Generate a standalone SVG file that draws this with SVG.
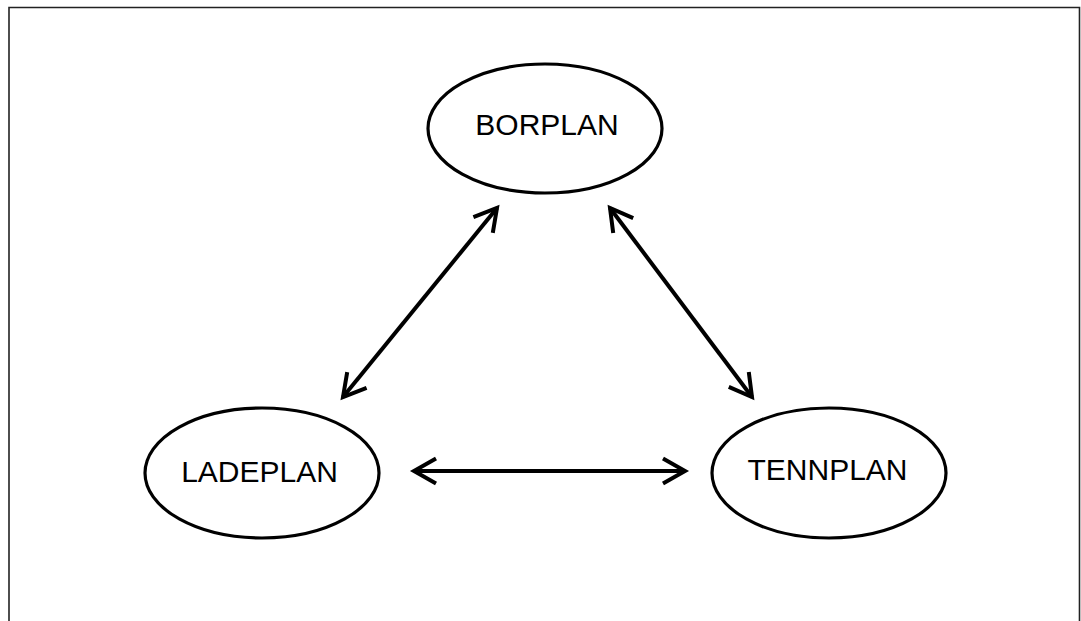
<svg xmlns="http://www.w3.org/2000/svg" width="1081" height="621" viewBox="0 0 1081 621">
<style>
.node ellipse{fill:#fff;stroke:#000;stroke-width:3.2}
.node text{font-family:"Liberation Sans",Arial,sans-serif;font-size:30px;fill:#000;text-anchor:middle}
.conn line{stroke:#000;stroke-width:4;fill:none}
</style>
<defs>
<marker id="ah" markerUnits="userSpaceOnUse" markerWidth="40" markerHeight="40" viewBox="-30 -20 40 40" refX="0" refY="0" orient="auto-start-reverse" overflow="visible">
<path d="M-22,-12.5 L0,0 L-22,12.5" fill="none" stroke="#000" stroke-width="4"/>
</marker>
</defs>
<rect width="1081" height="621" fill="#fff"/>
<path d="M9,621 V7.5 H1079.5 V621" fill="none" stroke="#222" stroke-width="1.6"/>
<g id="connectors" class="conn">
<line x1="343" y1="397" x2="497" y2="208" marker-start="url(#ah)" marker-end="url(#ah)"/>
<line x1="610" y1="208" x2="752" y2="397" marker-start="url(#ah)" marker-end="url(#ah)"/>
<line x1="414" y1="471" x2="685" y2="471" marker-start="url(#ah)" marker-end="url(#ah)"/>
</g>
<g id="borplan" class="node">
<ellipse cx="545" cy="128.5" rx="117" ry="64.5"/>
<text x="547" y="135">BORPLAN</text>
</g>
<g id="ladeplan" class="node">
<ellipse cx="262" cy="473" rx="117" ry="65"/>
<text x="259.5" y="482">LADEPLAN</text>
</g>
<g id="tennplan" class="node">
<ellipse cx="829" cy="473" rx="117" ry="65"/>
<text x="827.5" y="480">TENNPLAN</text>
</g>
</svg>
